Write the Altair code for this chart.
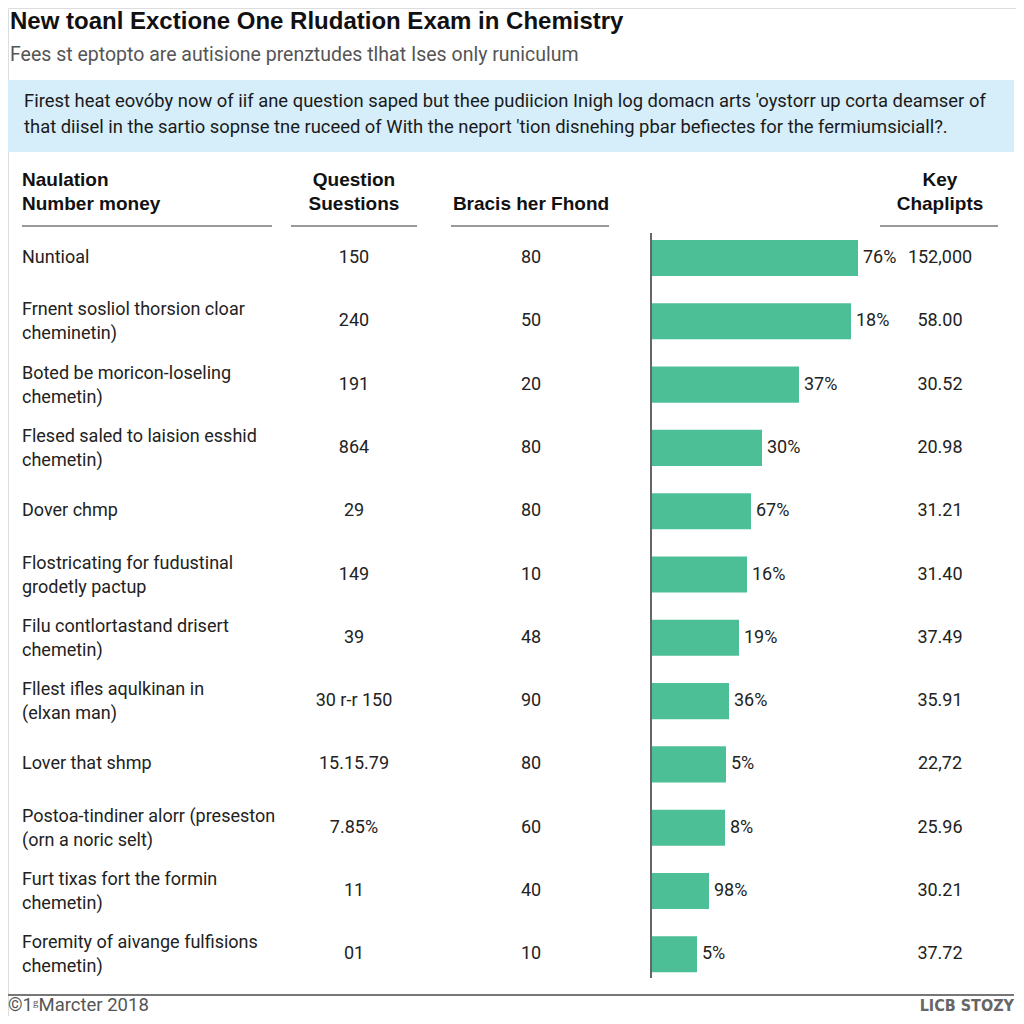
import altair as alt
import pandas as pd

# ---- data ----
row_labels = [
    "Nuntioal",
    "Frnent sosliol thorsion cloar\ncheminetin)",
    "Boted be moricon-loseling\nchemetin)",
    "Flesed saled to laision esshid\nchemetin)",
    "Dover chmp",
    "Flostricating for fudustinal\ngrodetly pactup",
    "Filu contlortastand drisert\nchemetin)",
    "Fllest ifles aqulkinan in\n(elxan man)",
    "Lover that shmp",
    "Postoa-tindiner alorr (preseston\n(orn a noric selt)",
    "Furt tixas fort the formin\nchemetin)",
    "Foremity of aivange fulfisions\nchemetin)",
]
question_vals = ["150", "240", "191", "864", "29", "149", "39", "30 r-r 150",
                 "15.15.79", "7.85%", "11", "01"]
bracis_vals = ["80", "50", "20", "80", "80", "10", "48", "90", "80", "60", "40", "10"]
bar_values = [82.4, 79.6, 58.8, 44.0, 39.6, 38.0, 34.8, 30.8, 29.6, 29.2, 22.8, 18.0]
bar_labels = ["76%", "18%", "37%", "30%", "67%", "16%", "19%", "36%", "5%", "8%",
              "98%", "5%"]
key_vals = ["152,000", "58.00", "30.52", "20.98", "31.21", "31.40", "37.49",
            "35.91", "22,72", "25.96", "30.21", "37.72"]

title = "New toanl Exctione One Rludation Exam in Chemistry"
subtitle = "Fees st eptopto are autisione prenztudes tlhat Ises only runiculum"
note = ("Firest heat eovóby now of iif ane question saped but thee pudiicion Inigh log domacn arts 'oystorr up corta deamser of\n"
        "that diisel in the sartio sopnse tne ruceed of With the neport 'tion disnehing pbar befiectes for the fermiumsiciall?.")
headers = ["Naulation\nNumber money", "Question\nSuestions", "Bracis her Fhond", "Key\nChaplipts"]
footer_left = "©1ᵍMarcter 2018"
footer_right = "LICB STOZY"

parts = [s.split("\n") for s in row_labels]
df = pd.DataFrame({
    "row": list(range(len(row_labels))),
    "line1": [p[0] for p in parts],
    "line2": [p[1] if len(p) > 1 else "" for p in parts],
    "nlines": [len(p) for p in parts],
    "question": question_vals,
    "bracis": bracis_vals,
    "value": bar_values,
    "pct": bar_labels,
    "key": key_vals,
})

W, H = 1008, 1008
BODY = "Roboto"
HEAD = "Liberation Sans"
BAR = "#4dbf96"
FS = 18

yscale = alt.Scale(domain=list(range(len(row_labels))), range=[218.35, 977.95],
                   paddingInner=0.43, paddingOuter=0.215)
Y = alt.Y("row:O", scale=yscale, axis=None)
xscale = alt.Scale(domain=[0, 100], range=[644, 894])

base = alt.Chart(df)

bars = base.mark_bar(color=BAR).encode(
    x=alt.X("value:Q", scale=xscale, axis=None), x2=alt.datum(0), y=Y)
pct = base.mark_text(align="left", baseline="middle", dx=5, font=BODY, fontSize=FS,
                     color="#222").encode(
    x=alt.X("value:Q", scale=xscale, axis=None), y=Y, text="pct:N")

def col(field, xpos, align, dy=0, flt=None):
    c = base
    if flt is not None:
        c = c.transform_filter(flt)
    return c.mark_text(align=align, baseline="middle", font=BODY, fontSize=FS,
                       color="#222", dy=dy).encode(
        x=alt.value(xpos), y=Y, text=f"{field}:N")

lab_single = col("line1", 14, "left", 0, alt.datum.nlines == 1)
lab_first = col("line1", 14, "left", -11, alt.datum.nlines == 2)
lab_second = col("line2", 14, "left", 13, alt.datum.nlines == 2)
c2 = col("question", 346, "center")
c3 = col("bracis", 523, "center")
c4 = col("key", 932, "center")

def txt(s, x, y, **kw):
    return alt.Chart(pd.DataFrame({"t": [s]})).mark_text(
        lineBreak="\n", baseline="middle", **kw).encode(
        x=alt.value(x), y=alt.value(y), text="t:N")

def rule(x1, x2, y1, y2, color="#777", w=1.5):
    return alt.Chart(pd.DataFrame({"a": [0]})).mark_rule(color=color, strokeWidth=w).encode(
        x=alt.value(x1), x2=alt.value(x2), y=alt.value(y1), y2=alt.value(y2))

box = alt.Chart(pd.DataFrame({"a": [0]})).mark_rect(color="#d5eefa").encode(
    x=alt.value(0), x2=alt.value(1006), y=alt.value(72), y2=alt.value(144))

HS = 19
layers = [
    box,
    txt(title, 2, 14, align="left", font=HEAD, fontWeight="bold", fontSize=24, color="#111"),
    txt(subtitle, 2, 47, align="left", font=BODY, fontSize=19.5, color="#555"),
    txt(note, 16, 93, align="left", font=BODY, fontSize=18.4, color="#1a1a1a", lineHeight=26),
    txt(headers[0], 14, 172, align="left", font=HEAD, fontWeight="bold", fontSize=HS, color="#111", lineHeight=24),
    txt(headers[1], 346, 172, align="center", font=HEAD, fontWeight="bold", fontSize=HS, color="#111", lineHeight=24),
    txt(headers[2], 523, 196, align="center", font=HEAD, fontWeight="bold", fontSize=HS, color="#111"),
    txt(headers[3], 932, 172, align="center", font=HEAD, fontWeight="bold", fontSize=HS, color="#111", lineHeight=24),
    rule(14, 264, 218, 218),
    rule(283, 409, 218, 218),
    rule(443, 601, 218, 218),
    rule(872, 990, 218, 218),
    bars, pct, lab_single, lab_first, lab_second, c2, c3, c4,
    rule(643, 643, 225, 970, color="#666", w=2),
    rule(0, 1006, 987, 987, color="#777", w=2),
    txt(footer_left, 0, 997, align="left", font=BODY, fontSize=18.5, color="#555"),
    txt(footer_right, 1006, 998, align="right",
        font="'DejaVu Sans Condensed', 'Liberation Sans Narrow', sans-serif",
        fontWeight="bold", fontSize=16, color="#666"),
]

chart = alt.layer(*layers).properties(
    width=W, height=H, autosize=alt.AutoSizeParams(type="none"), padding=0
).configure_view(stroke=None).configure(background="white")

chart.save("out.html", embed_options={"renderer": "svg", "actions": False})
